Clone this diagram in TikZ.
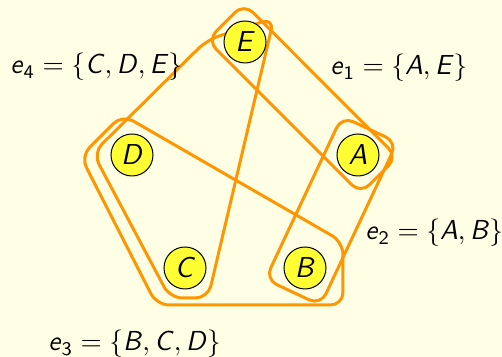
\documentclass[tikz,border=0pt]{standalone}
\usepackage{amsmath}
\usetikzlibrary{calc}
\definecolor{bg}{RGB}{255,255,230}
\definecolor{vfill}{RGB}{255,255,51}
\definecolor{hedge}{RGB}{255,150,0}
\newcommand{\vx}[1]{\textsf{\textit{#1}}}
\begin{document}
\begin{tikzpicture}[x=0.4pt,y=-0.4pt,
  vertex/.style={circle,draw=black,line width=0.4pt,fill=vfill,minimum size=16.8pt,inner sep=0pt,font=\fontsize{11.5}{13}\selectfont},
  hyper/.style={draw=hedge,line width=1.2pt,rounded corners=5pt},
  lab/.style={anchor=base west,inner sep=0pt,font=\fontsize{11}{13}\selectfont}]
\fill[bg] (0,0) rectangle (502,357);
\useasboundingbox (0,0) rectangle (502,357);
% e1 = {A,E}
\draw[hyper] (207.2,40.3) -- (243.9,3.5) -- (397.3,157.0) -- (360.6,193.7) -- cycle;
% e2 = {A,B}
\draw[hyper] (341.9,116.4) -- (397.1,142.3) -- (320.6,305.2) -- (265.4,279.3) -- cycle;
% e3 = {B,C,D}
\draw[hyper] (80.7,156.3) -- (122.3,114.7) -- (343,242) -- (343,305) -- (156.7,305) -- cycle;
% e4 = {C,D,E}
\draw[hyper] (93,153) -- (207,40) -- (274,18) -- (208,298) -- (170,298) -- cycle;
% vertices
\node[vertex] (E) at (245,42) {\vx{E}};
\node[vertex] (D) at (132,155) {\vx{D}};
\node[vertex] (A) at (358,155) {\vx{A}};
\node[vertex] (C) at (185,268) {\vx{C}};
\node[vertex] (B) at (305,268) {\vx{B}};
% labels
\node[lab] (l4) at (10,74) {$\vx{e}_{\textsf{4}} = \{\vx{C}, \vx{D}, \vx{E}\}$};
\node[lab] (l1) at (330,75) {$\vx{e}_{\textsf{1}} = \{\vx{A}, \vx{E}\}$};
\node[lab] (l2) at (365,240) {$\vx{e}_{\textsf{2}} = \{\vx{A}, \vx{B}\}$};
\node[lab] (l3) at (48,351) {$\vx{e}_{\textsf{3}} = \{\vx{B}, \vx{C}, \vx{D}\}$};
\end{tikzpicture}
\end{document}
